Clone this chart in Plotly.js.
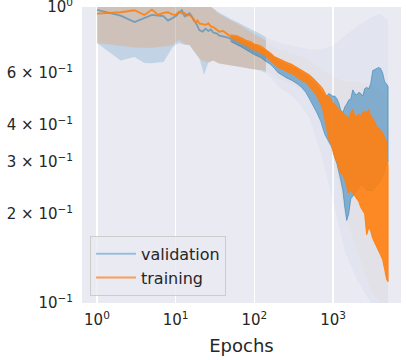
<!DOCTYPE html>
<html>
<head>
<meta charset="utf-8">
<script src="https://cdn.plot.ly/plotly-3.0.1.min.js"></script>
<style>
  html, body { margin: 0; padding: 0; background: #fff; }
  #chart { width: 406px; height: 360px; }
</style>
</head>
<body>
<div id="chart"></div>
<script>
// ===== loss curves (log-log) =====

// --- Early epochs: plain lines ---
const earlyEpochs = [1, 2, 3, 4, 5, 6, 7, 8, 9, 10, 11, 12, 13, 14, 15, 16, 17, 18, 19, 20,
  22, 24, 26, 28, 30, 33, 36, 40, 45, 50];
const valLoss = [0.977, 0.935, 0.89, 0.92, 0.94, 0.935, 0.932, 0.90, 0.915, 0.93,
  0.955, 0.975, 0.93, 0.94, 0.952, 0.93, 0.90, 0.885, 0.86, 0.836,
  0.825, 0.845, 0.83, 0.84, 0.82, 0.815, 0.80, 0.795, 0.79, 0.78];
const trainLoss = [0.95, 0.96, 0.975, 0.94, 0.98, 0.94, 0.955, 0.96, 0.945, 0.94,
  0.965, 0.95, 0.955, 0.935, 0.94, 0.925, 0.91, 0.885, 0.9, 0.88,
  0.875, 0.87, 0.88, 0.86, 0.855, 0.84, 0.825, 0.83, 0.81, 0.795];

// --- Later epochs: jittery curves, given as their top / bottom edge ---
const noisyEpochs = [50, 60, 70, 80, 90, 100, 120, 140, 160, 180, 200, 230, 260, 300, 350,
  400, 450, 500, 560, 620, 700, 740, 790, 830, 880, 940, 990, 1050, 1120, 1180,
  1250, 1330, 1410, 1490, 1580, 1680, 1780, 1890, 2000, 2120, 2250, 2380, 2520, 2670, 2840,
  3000, 3190, 3380, 3580, 3790, 4020, 4260, 4520, 4790, 5000];
const valHigh = [0.795, 0.785, 0.77, 0.76, 0.75, 0.74, 0.725, 0.71, 0.69, 0.675, 0.66, 0.65, 0.64, 0.63, 0.615,
  0.60, 0.59, 0.575, 0.56, 0.545, 0.52, 0.51, 0.50, 0.50, 0.51, 0.505, 0.50, 0.50, 0.49, 0.475,
  0.45, 0.44, 0.46, 0.47, 0.485, 0.49, 0.525, 0.51, 0.505, 0.515, 0.51, 0.50, 0.53, 0.535, 0.53,
  0.55, 0.61, 0.615, 0.62, 0.625, 0.62, 0.60, 0.56, 0.545, 0.54];
const valLow = [0.765, 0.745, 0.73, 0.715, 0.70, 0.69, 0.675, 0.655, 0.64, 0.62, 0.60, 0.585, 0.575, 0.565, 0.55,
  0.535, 0.515, 0.49, 0.465, 0.44, 0.41, 0.39, 0.37, 0.36, 0.35, 0.34, 0.33, 0.31, 0.295, 0.28,
  0.26, 0.24, 0.21, 0.19, 0.20, 0.225, 0.23, 0.235, 0.24, 0.245, 0.25, 0.25, 0.245, 0.24, 0.24,
  0.24, 0.24, 0.245, 0.25, 0.255, 0.26, 0.27, 0.28, 0.30, 0.30];
const trainHigh = [0.805, 0.80, 0.785, 0.77, 0.765, 0.75, 0.74, 0.72, 0.70, 0.68, 0.67, 0.66, 0.65, 0.64, 0.625,
  0.61, 0.60, 0.59, 0.575, 0.56, 0.54, 0.53, 0.515, 0.50, 0.50, 0.49, 0.475, 0.47, 0.46, 0.45,
  0.445, 0.44, 0.43, 0.43, 0.42, 0.44, 0.45, 0.43, 0.425, 0.435, 0.43, 0.44, 0.445, 0.44, 0.45,
  0.43, 0.42, 0.41, 0.395, 0.39, 0.385, 0.375, 0.365, 0.35, 0.29];
const trainLow = [0.785, 0.77, 0.75, 0.74, 0.725, 0.715, 0.70, 0.68, 0.66, 0.64, 0.625, 0.615, 0.605, 0.595, 0.58,
  0.565, 0.555, 0.54, 0.52, 0.50, 0.47, 0.45, 0.42, 0.39, 0.36, 0.345, 0.33, 0.31, 0.30, 0.285,
  0.275, 0.27, 0.26, 0.25, 0.235, 0.24, 0.235, 0.23, 0.225, 0.22, 0.21, 0.205, 0.20, 0.17, 0.18,
  0.175, 0.165, 0.16, 0.155, 0.15, 0.145, 0.14, 0.13, 0.12, 0.118];

// --- Shaded spread around each curve ---
const spreadEpochs = [1, 2, 3, 4, 5, 6, 7, 8, 9, 10, 11, 12, 13, 15, 17, 20, 23, 26, 30, 35,
  40, 50, 60, 70, 85, 100, 120, 140];
const valSpreadUp = [1.15, 1.15, 1.15, 1.15, 1.15, 1.15, 1.15, 1.15, 1.15, 1.15, 1.15, 1.15, 1.15, 1.15, 1.15, 1.15,
  1.05, 1.02, 0.99, 0.96, 0.94, 0.91, 0.89, 0.87, 0.85, 0.83, 0.81, 0.79];
const valSpreadDown = [0.756, 0.66, 0.678, 0.647, 0.645, 0.65, 0.652, 0.69, 0.727, 0.745, 0.756, 0.75, 0.745, 0.744,
  0.71, 0.67, 0.59, 0.65, 0.66, 0.645, 0.64, 0.635, 0.63, 0.625, 0.62, 0.615, 0.61, 0.60];
const trainSpreadUp = [1.15, 1.15, 1.15, 1.15, 1.15, 1.15, 1.15, 1.15, 1.15, 1.15, 1.15, 1.15, 1.15, 1.15, 1.15, 1.15,
  1.05, 1.02, 0.98, 0.95, 0.93, 0.90, 0.88, 0.86, 0.83, 0.81, 0.79, 0.77];
const trainSpreadDown = [0.756, 0.74, 0.73, 0.728, 0.728, 0.73, 0.735, 0.738, 0.742, 0.76, 0.774, 0.76, 0.75, 0.744,
  0.71, 0.67, 0.655, 0.65, 0.66, 0.645, 0.64, 0.635, 0.63, 0.627, 0.62, 0.615, 0.612, 0.61];

// faint, very jittery spread at late epochs
const faintEpochs = [140, 200, 300, 400, 500, 700, 1000, 1400, 2000, 3000, 4000, 5000];
const valFaintUp = [0.79, 0.76, 0.74, 0.73, 0.72, 0.72, 0.74, 0.80, 0.86, 0.92, 0.95, 0.90];
const valFaintDown = [0.60, 0.54, 0.50, 0.46, 0.42, 0.32, 0.22, 0.15, 0.12, 0.10, 0.095, 0.095];
const trainFaintUp = [0.77, 0.72, 0.70, 0.68, 0.66, 0.62, 0.58, 0.56, 0.56, 0.55, 0.52, 0.50];
const trainFaintDown = [0.61, 0.57, 0.55, 0.52, 0.50, 0.42, 0.30, 0.20, 0.15, 0.11, 0.10, 0.095];

// --- Ticks ---
const xTickVals = [1, 10, 100, 1000];
const xTickText = ["10<sup>0</sup>", "10<sup>1</sup>", "10<sup>2</sup>", "10<sup>3</sup>"];
const yTickVals = [0.1, 0.2, 0.3, 0.4, 0.6, 1];
const yTickText = ["10<sup>−1</sup>", "2 × 10<sup>−1</sup>", "3 × 10<sup>−1</sup>",
  "4 × 10<sup>−1</sup>", "6 × 10<sup>−1</sup>", "10<sup>0</sup>"];

// --- Colours ---
const BLUE = "31,119,180";
const ORANGE = "255,127,14";
const TEXT = "#262626";
const FONT = "DejaVu Sans, sans-serif";

// closed polygon between two edges
function band(xs, up, down, fillcolor) {
  return {
    x: xs.concat(xs.slice().reverse()),
    y: up.concat(down.slice().reverse()),
    type: "scatter", mode: "lines", fill: "toself",
    fillcolor: fillcolor, line: { width: 0 },
    hoverinfo: "skip", showlegend: false,
  };
}

function blob(xs, up, down, rgb, alpha) {
  const t = band(xs, up, down, `rgba(${rgb},${alpha})`);
  t.line = { width: 1, color: `rgba(${rgb},${alpha})` };
  return t;
}

function line(xs, ys, rgb, alpha) {
  return {
    x: xs, y: ys, type: "scatter", mode: "lines",
    line: { color: `rgba(${rgb},${alpha})`, width: 1.8 },
    showlegend: false,
  };
}

const traces = [
  band(spreadEpochs, valSpreadUp, valSpreadDown, `rgba(${BLUE},0.2)`),
  band(faintEpochs, valFaintUp, valFaintDown, `rgba(${BLUE},0.035)`),
  band(spreadEpochs, trainSpreadUp, trainSpreadDown, `rgba(${ORANGE},0.2)`),
  band(faintEpochs, trainFaintUp, trainFaintDown, `rgba(${ORANGE},0.03)`),
  line(earlyEpochs, valLoss, BLUE, 0.5),
  blob(noisyEpochs, valHigh, valLow, BLUE, 0.5),
  line(earlyEpochs, trainLoss, ORANGE, 0.9),
  blob(noisyEpochs, trainHigh, trainLow, ORANGE, 0.9),
  // legend entries
  { x: [null], y: [null], type: "scatter", mode: "lines", name: "validation",
    line: { color: `rgba(${BLUE},0.4)`, width: 2 } },
  { x: [null], y: [null], type: "scatter", mode: "lines", name: "training",
    line: { color: `rgba(${ORANGE},0.7)`, width: 2 } },
];

const layout = {
  width: 406, height: 360,
  margin: { l: 82, r: 5, t: 7, b: 57 },
  paper_bgcolor: "#ffffff",
  plot_bgcolor: "#EAEAF2",
  font: { family: FONT, color: TEXT, size: 15 },
  showlegend: true,
  legend: {
    x: 0.025, y: 0.024, xanchor: "left", yanchor: "bottom",
    bgcolor: "rgba(234,234,242,0.8)", bordercolor: "#cccccc", borderwidth: 1,
    font: { family: FONT, size: 16, color: TEXT },
    traceorder: "normal", itemwidth: 40,
  },
  xaxis: {
    type: "log", range: [-0.19, 3.863],
    tickvals: xTickVals, ticktext: xTickText,
    showgrid: true, gridcolor: "#ffffff", gridwidth: 1.3,
    zeroline: false, showline: false, ticks: "",
    ticklabelstandoff: 6,
    tickfont: { family: FONT, size: 15, color: TEXT },
    title: { text: "Epochs", font: { family: FONT, size: 18, color: TEXT }, standoff: 11 },
  },
  yaxis: {
    type: "log", range: [-1, 0],
    tickvals: yTickVals, ticktext: yTickText,
    showgrid: false, zeroline: false, showline: false, ticks: "",
    ticklabelstandoff: 8, ticklabeloverflow: "allow",
    tickfont: { family: FONT, size: 15, color: TEXT },
  },
  annotations: [{
    text: "loss", xref: "paper", yref: "paper", x: 0.5, y: 1,
    xanchor: "center", yanchor: "bottom", yshift: 2, showarrow: false,
    font: { family: FONT, size: 17, color: TEXT },
  }],
};

Plotly.newPlot("chart", traces, layout, { staticPlot: true, displayModeBar: false });
</script>
</body>
</html>
